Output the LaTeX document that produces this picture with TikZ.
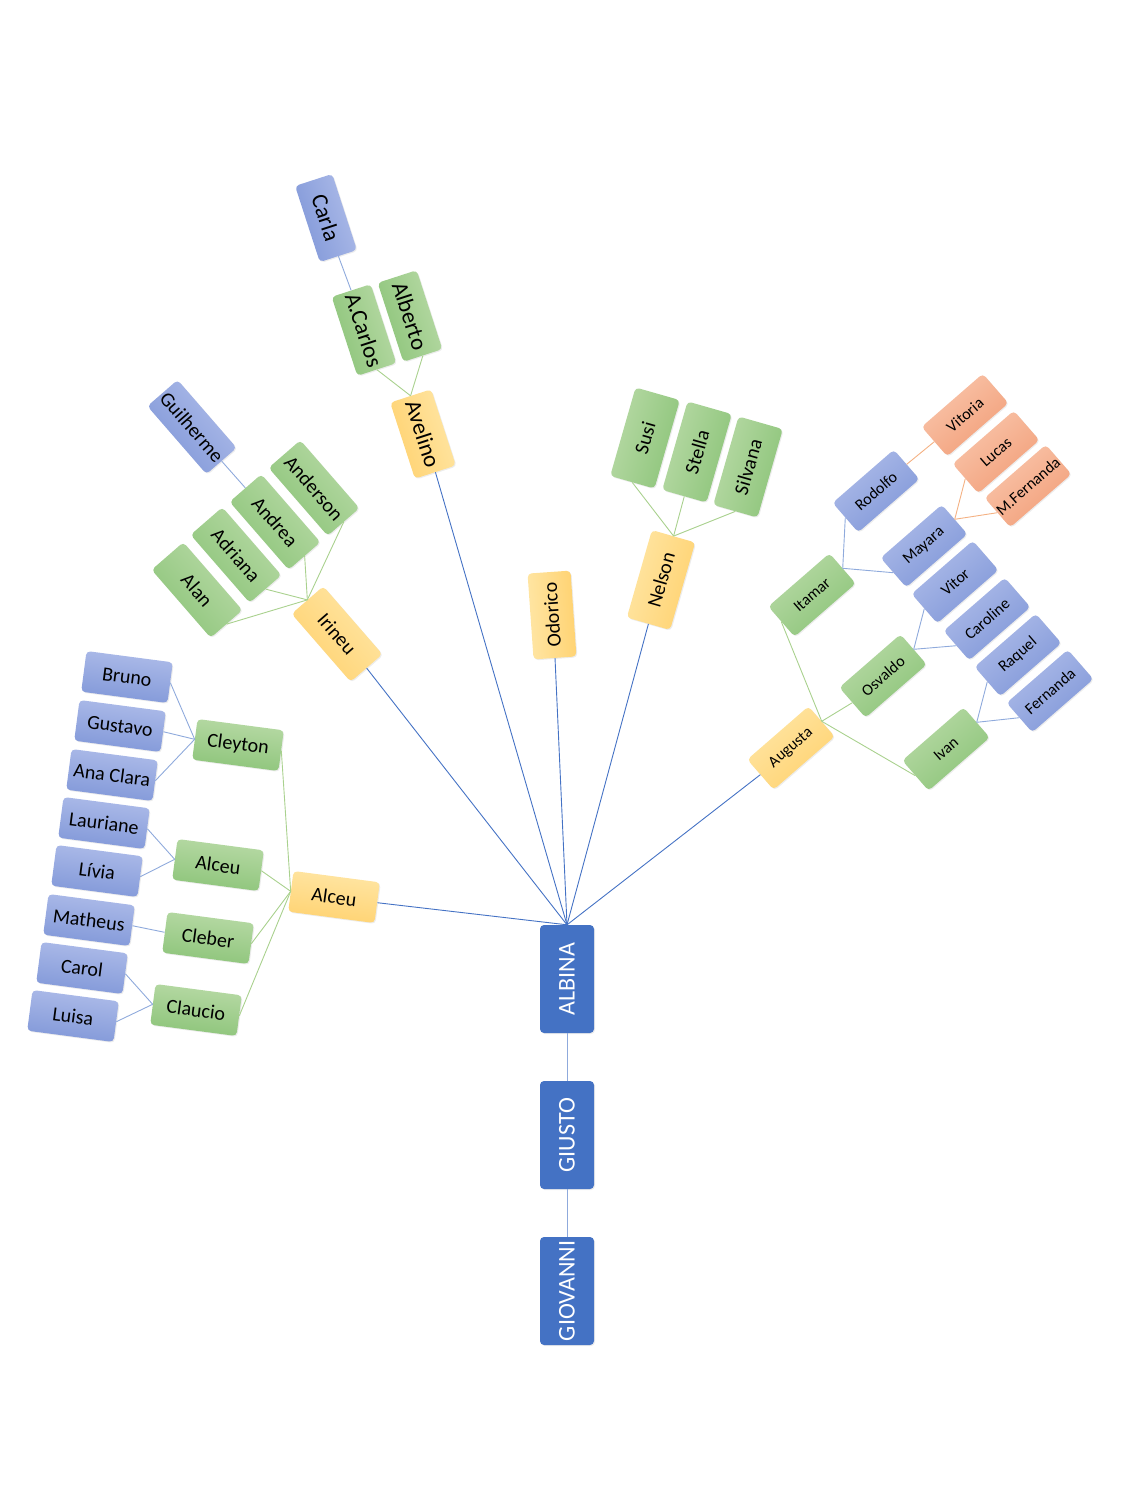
\documentclass[tikz,border=0pt]{standalone}
\usepackage{fontspec}
\setmainfont{Carlito}
\usetikzlibrary{shadows}

\definecolor{trunkblue}{RGB}{68,114,196}
\definecolor{bluetop}{RGB}{174,188,233}
\definecolor{bluebot}{RGB}{128,151,216}
\definecolor{greentop}{RGB}{184,218,166}
\definecolor{greenbot}{RGB}{140,196,121}
\definecolor{goldtop}{RGB}{255,230,165}
\definecolor{goldbot}{RGB}{255,210,112}
\definecolor{salmtop}{RGB}{249,198,172}
\definecolor{salmbot}{RGB}{242,158,120}
\definecolor{linepale}{RGB}{143,170,220}
\definecolor{linegreen}{RGB}{169,209,142}
\definecolor{linesalm}{RGB}{244,177,131}

\tikzset{
	box/.style={rectangle,rounded corners=4pt,inner sep=0pt,align=center,
		drop shadow={opacity=0.15,shadow xshift=1pt,shadow yshift=-1pt}},
	trunk node/.style={box,fill=trunkblue,text=white,rotate=90,
		minimum width=108pt,minimum height=54pt,font=\fontsize{24}{26}\selectfont},
	blue node/.style={box,top color=bluetop,bottom color=bluebot},
	green node/.style={box,top color=greentop,bottom color=greenbot},
	gold node/.style={box,top color=goldtop,bottom color=goldbot},
	salmon node/.style={box,top color=salmtop,bottom color=salmbot},
	% turn the box and its shading together
	tilt/.style={rotate=#1,shading angle=#1},
	% one style per branch: size, turn and type size
	left box/.style={minimum width=87pt,minimum height=41pt,tilt=-7.5,font=\fontsize{20}{22}\selectfont},
	irineu box/.style={minimum width=90pt,minimum height=42pt,tilt=-49,font=\fontsize{20}{22}\selectfont},
	avelino box/.style={minimum width=80pt,minimum height=41pt,tilt=-72,font=\fontsize{23}{25}\selectfont},
	nelson box/.style={minimum width=92pt,minimum height=46pt,tilt=74,font=\fontsize{20}{22}\selectfont},
	right box/.style={minimum width=81pt,minimum height=39pt,tilt=41,font=\fontsize{16}{18}\selectfont},
	dark link/.style={draw=trunkblue,line width=0.9pt},
	pale link/.style={draw=linepale,line width=0.9pt},
	green link/.style={draw=linegreen,line width=0.9pt},
	salmon link/.style={draw=linesalm,line width=0.9pt}
}

\begin{document}
\begin{tikzpicture}[x=1pt,y=-1pt]
	\useasboundingbox (0,0) rectangle (1134,1512);
	
	% trunk
	\node[trunk node] (albina) at (567,979) {ALBINA};
	\node[trunk node] (giusto) at (567,1135) {GIUSTO};
	\node[trunk node] (giovanni) at (567,1291) {GIOVANNI};
	
	% left branch
	\node[gold node,left box] (alceu) at (334,897) {Alceu};
	\node[green node,left box] (cleyton) at (238,745) {Cleyton};
	\node[green node,left box] (alceub) at (218,865) {Alceu};
	\node[green node,left box] (cleber) at (208,938) {Cleber};
	\node[green node,left box] (claucio) at (196,1010) {Claucio};
	\node[blue node,left box] (bruno) at (127,677) {Bruno};
	\node[blue node,left box] (gustavo) at (120,726) {Gustavo};
	\node[blue node,left box] (anaclara) at (112,775) {Ana Clara};
	\node[blue node,left box] (lauriane) at (104,823) {Lauriane};
	\node[blue node,left box] (livia) at (97,871) {Lívia};
	\node[blue node,left box] (matheus) at (89,920) {Matheus};
	\node[blue node,left box] (carol) at (82,968) {Carol};
	\node[blue node,left box] (luisa) at (73,1016) {Luisa};
	
	% Irineu branch
	\node[gold node,irineu box] (irineu) at (337,634) {Irineu};
	\node[green node,irineu box] (alan) at (197,590) {Alan};
	\node[green node,irineu box] (adriana) at (236,555) {Adriana};
	\node[green node,irineu box] (andrea) at (275,522) {Andrea};
	\node[green node,irineu box] (anderson) at (314,488) {Anderson};
	\node[blue node,irineu box,minimum height=40pt] (guilherme) at (192,427) {Guilherme};
	
	% Avelino branch
	\node[gold node,avelino box,minimum height=43pt] (avelino) at (423,434) {Avelino};
	\node[green node,avelino box,minimum width=83pt] (acarlos) at (364,330) {A.Carlos};
	\node[green node,avelino box,minimum width=83pt] (alberto) at (410,316) {Alberto};
	\node[blue node,avelino box,minimum height=39pt] (carla) at (326,218) {Carla};
	
	% Odorico, Nelson
	\node[gold node,tilt=94,minimum width=86pt,minimum height=43pt,
		font=\fontsize{20}{22}\selectfont] (odorico) at (552,615) {Odorico};
	\node[gold node,nelson box,minimum width=91pt,minimum height=45pt] (nelson) at (661,580) {Nelson};
	\node[green node,nelson box] (susi) at (645,438) {Susi};
	\node[green node,nelson box] (stella) at (697,452) {Stella};
	\node[green node,nelson box] (silvana) at (748,467) {Silvana};
	
	% right branch
	\node[gold node,right box,minimum height=40pt] (augusta) at (791,748) {Augusta};
	\node[green node,right box,minimum height=40pt] (itamar) at (812,595) {Itamar};
	\node[green node,right box,minimum height=40pt] (osvaldo) at (883,676) {Osvaldo};
	\node[green node,right box,minimum height=40pt] (ivan) at (946,749) {Ivan};
	\node[blue node,right box] (rodolfo) at (876,491) {Rodolfo};
	\node[blue node,right box] (mayara) at (924,546) {Mayara};
	\node[blue node,right box] (vitor) at (955,582) {Vitor};
	\node[blue node,right box] (caroline) at (987,619) {Caroline};
	\node[blue node,right box] (raquel) at (1018,655) {Raquel};
	\node[blue node,right box] (fernanda) at (1050,691) {Fernanda};
	\node[salmon node,right box] (vitoria) at (965,415) {Vitoria};
	\node[salmon node,right box] (lucas) at (996,452) {Lucas};
	\node[salmon node,right box] (mfernanda) at (1028,486) {M.Fernanda};
	
	\path
	(giovanni.east) edge [pale link] (giusto.west)
	(giusto.east) edge [pale link] (albina.west)
	(albina.east) edge [dark link] (alceu.east)
	(albina.east) edge [dark link] (irineu.east)
	(albina.east) edge [dark link] (avelino.east)
	(albina.east) edge [dark link] (odorico.west)
	(albina.east) edge [dark link] (nelson.west)
	(albina.east) edge [dark link] (augusta.west)
	(alceu.west) edge [green link] (cleyton.east)
	(alceu.west) edge [green link] (alceub.east)
	(alceu.west) edge [green link] (cleber.east)
	(alceu.west) edge [green link] (claucio.east)
	(cleyton.west) edge [pale link] (bruno.east)
	(cleyton.west) edge [pale link] (gustavo.east)
	(cleyton.west) edge [pale link] (anaclara.east)
	(alceub.west) edge [pale link] (lauriane.east)
	(alceub.west) edge [pale link] (livia.east)
	(cleber.west) edge [pale link] (matheus.east)
	(claucio.west) edge [pale link] (carol.east)
	(claucio.west) edge [pale link] (luisa.east)
	(irineu.west) edge [green link] (alan.east)
	(irineu.west) edge [green link] (adriana.east)
	(irineu.west) edge [green link] (andrea.east)
	(irineu.west) edge [green link] (anderson.east)
	(andrea.west) edge [pale link] (guilherme.east)
	(avelino.west) edge [green link] (acarlos.east)
	(avelino.west) edge [green link] (alberto.east)
	(acarlos.west) edge [pale link] (carla.east)
	(nelson.east) edge [green link] (susi.west)
	(nelson.east) edge [green link] (stella.west)
	(nelson.east) edge [green link] (silvana.west)
	(augusta.east) edge [green link] (itamar.west)
	(augusta.east) edge [green link] (osvaldo.west)
	(augusta.east) edge [green link] (ivan.west)
	(itamar.east) edge [pale link] (rodolfo.west)
	(itamar.east) edge [pale link] (mayara.west)
	(osvaldo.east) edge [pale link] (vitor.west)
	(osvaldo.east) edge [pale link] (caroline.west)
	(ivan.east) edge [pale link] (raquel.west)
	(ivan.east) edge [pale link] (fernanda.west)
	(rodolfo.east) edge [salmon link] (vitoria.west)
	(mayara.east) edge [salmon link] (lucas.west)
	(mayara.east) edge [salmon link] (mfernanda.west);
\end{tikzpicture}
\end{document}
